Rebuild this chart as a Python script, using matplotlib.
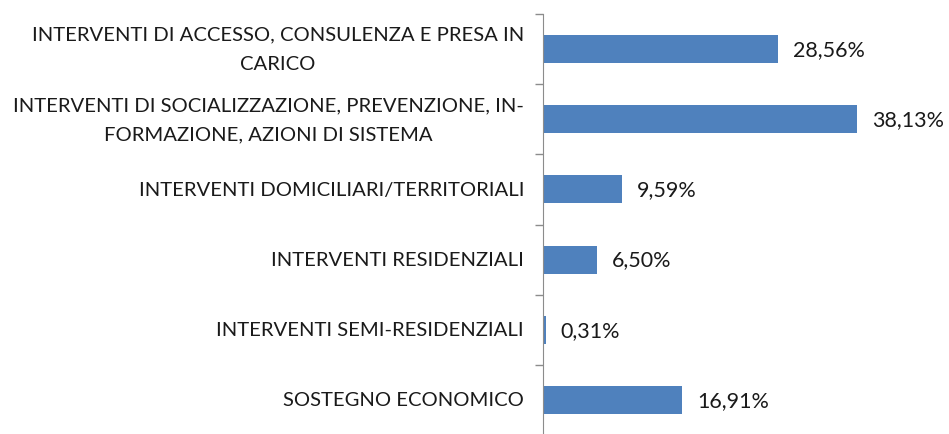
import matplotlib.pyplot as plt

categories = [
    "INTERVENTI DI ACCESSO, CONSULENZA E PRESA IN\nCARICO",
    "INTERVENTI DI SOCIALIZZAZIONE, PREVENZIONE, IN-\nFORMAZIONE, AZIONI DI SISTEMA",
    "INTERVENTI DOMICILIARI/TERRITORIALI",
    "INTERVENTI RESIDENZIALI",
    "INTERVENTI SEMI-RESIDENZIALI",
    "SOSTEGNO ECONOMICO",
]
values = [28.56, 38.13, 9.59, 6.50, 0.31, 16.91]

plt.rcParams['font.family'] = ['Lato', 'DejaVu Sans']

fig = plt.figure(figsize=(9.49, 4.35), dpi=100)
ax = fig.add_axes([543 / 949, -1 / 435, 404 / 949, 421 / 435])

ypos = list(range(len(categories)))
ax.barh(ypos, values, height=0.4, color='#4F81BD')
ax.set_ylim(len(categories) - 0.5, -0.5)
ax.set_xlim(0, 49)

for y, v in zip(ypos, values):
    ax.text(v + 1.8, y, f"{v:.2f}%".replace('.', ','), va='center', ha='left',
            fontsize=15.5, color='#1a1a1a')

# category labels, centered multi-line like the original
ax.set_yticks([])
for y, lab in zip(ypos, categories):
    ax.text(-0.047, y, lab, transform=ax.get_yaxis_transform(), ha='right',
            va='center', multialignment='center', fontsize=14.6,
            color='#1a1a1a', linespacing=1.9)

# tick marks at category boundaries
ax.set_yticks([i - 0.5 for i in range(len(categories) + 1)], minor=True)
ax.tick_params(axis='y', which='minor', length=6, color='#8c8c8c', width=1)
ax.tick_params(axis='x', bottom=False, labelbottom=False)

for s in ['top', 'right', 'bottom']:
    ax.spines[s].set_visible(False)
ax.spines['left'].set_color('#8c8c8c')

fig.savefig('out.png', dpi=100)
